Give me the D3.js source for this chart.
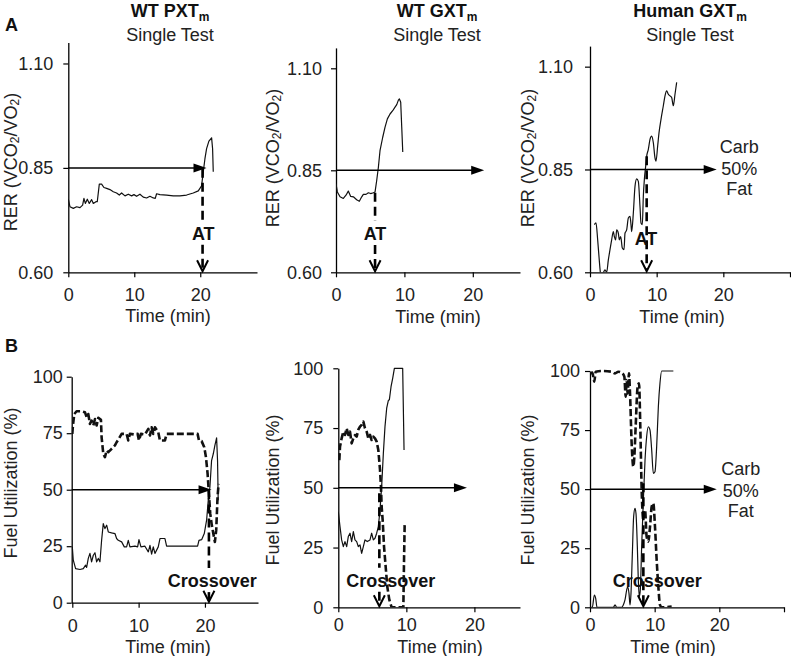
<!DOCTYPE html>
<html><head><meta charset="utf-8">
<script src="https://cdn.jsdelivr.net/npm/d3@7"></script>
<style>
body{margin:0;background:#fff;}
svg{display:block;font-family:"Liberation Sans",Arial,sans-serif;}
</style></head><body>
<svg id="chart" width="791" height="656"></svg>
<script>
// ---------------- data ----------------
const rerTicks = [0.60, 0.85, 1.10];
const fuelTicks = [0, 25, 50, 75, 100];
const timeTicks = [0, 10, 20];
const timeTicksLong = [0, 10, 20, 30];
const titles = ["WT PXT", "WT GXT", "Human GXT"];
const subtitle = "Single Test";
const markerLabels = ["AT", "Crossover"];
const fuelLabels = ["Carb", "50%", "Fat"];

// A1: WT PXTm RER
const a1Time = [0,0.25,0.76,1.26,1.77,2.17,2.37,2.58,2.88,3.18,3.54,3.79,4.19,4.39,4.70,5.05,5.40,5.81,6.31,6.82,7.32,7.73,8.08,8.59,9.09,9.60,9.95,10.35,10.86,11.36,11.87,12.37,12.88,13.18,13.38,13.89,14.90,15.91,16.92,17.93,18.94,19.70,20.20,20.45,20.71,20.96,21.31,21.72,21.87,21.97];
const a1RER = [0.775,0.757,0.753,0.757,0.755,0.761,0.777,0.765,0.775,0.765,0.774,0.765,0.769,0.769,0.811,0.811,0.803,0.801,0.798,0.793,0.790,0.785,0.790,0.783,0.787,0.783,0.786,0.782,0.787,0.780,0.778,0.782,0.778,0.777,0.788,0.786,0.785,0.783,0.783,0.785,0.790,0.795,0.807,0.840,0.872,0.896,0.914,0.922,0.896,0.841];

// A2: WT GXTm RER
const a2Time = [0,0.2,0.59,1.07,1.46,1.80,2.15,2.54,3.02,3.41,3.76,4.0,4.39,4.73,5.07,5.46,5.71,5.95,6.2,6.44,6.83,7.17,7.51,7.9,8.29,8.63,8.88,9.12,9.27,9.46,9.61,9.76];
const a2RER = [0.817,0.797,0.785,0.781,0.789,0.799,0.786,0.785,0.778,0.774,0.785,0.791,0.791,0.795,0.793,0.795,0.797,0.825,0.858,0.899,0.931,0.956,0.976,0.988,0.996,1.005,1.011,1.022,1.025,1.017,0.956,0.895];

// A3: Human GXTm RER
const a3Time = [0.65,0.9,1.15,1.35,1.55,1.75,2.0,2.25,2.5,2.75,3.0,3.25,3.5,3.65,3.85,4.0,4.25,4.4,4.6,4.85,5.1,5.25,5.5,5.75,6.0,6.15,6.25,6.5,6.75,7.0,7.25,7.5,7.65,7.85,8.0,8.15,8.35,8.5,8.75,9.0,9.25,9.5,9.75,9.9,10.15,10.35,10.65,11.0,11.25,11.5,11.75,12.0,12.25,12.5,12.75,13.0];
const a3RER = [0.716,0.720,0.679,0.638,0.600,0.580,0.598,0.606,0.600,0.630,0.655,0.679,0.699,0.687,0.679,0.703,0.695,0.679,0.687,0.659,0.655,0.695,0.703,0.732,0.736,0.716,0.699,0.744,0.809,0.827,0.821,0.760,0.720,0.716,0.785,0.825,0.858,0.882,0.899,0.923,0.931,0.915,0.878,0.870,0.907,0.939,0.972,1.005,1.029,1.041,1.033,1.029,1.025,1.005,1.033,1.062];

// B1: WT PXTm fuel utilization
const b1CarbTime = [0,0.15,0.5,1.16,1.66,2.0,2.16,2.41,2.66,2.91,3.17,3.42,3.67,3.92,4.17,4.42,4.67,4.92,5.18,5.43,5.93,6.43,6.68,6.93,7.44,7.84,8.19,8.44,8.69,9.45,9.85,10.05,10.35,10.95,11.46,11.71,11.96,12.21,12.46,12.96,13.22,13.97,14.22,14.97,16.48,17.99,18.89,19.1,19.5,19.9,20.25,20.5,20.75,21.0,21.26,21.5,21.76,21.9,22.0];
const b1Carb = [24.7,18.8,15.1,14.7,15.1,16.6,15.6,19.6,21.8,18.1,21.0,22.1,18.1,19.6,18.1,27.6,35.0,32.8,34.3,31.3,30.9,30.6,28.4,27.6,26.9,24.7,24.7,27.6,24.7,25.0,24.7,27.9,24.7,25.0,22.5,25.4,21.5,24.7,21.8,24.7,28.4,28.4,25.0,25.0,25.0,25.0,25.0,27.6,27.9,30.6,36.5,45.3,51.2,62.9,65.9,69.6,72.9,62.9,45.3];
const b1FatTime = [0,0.1,0.3,0.65,1.4,1.9,2.16,2.41,2.66,2.91,3.17,3.42,3.67,3.92,4.32,4.42,4.67,4.92,5.18,5.43,5.93,6.43,6.68,6.93,7.44,7.84,8.19,8.44,8.69,9.45,9.85,10.05,10.35,10.95,11.46,11.71,11.96,12.21,12.46,12.96,13.22,13.97,14.22,16.48,18.89,19.1,19.5,19.9,20.15,20.4,20.6,20.8,21.0,21.26,21.5,21.7,21.9,22.06];
const b1Fat = [74.7,78.4,83.5,84.7,84.7,84.3,82.1,83.5,79.1,80.6,78.4,81.3,78.4,81.8,80.9,73.2,65.9,64.4,67.4,66.6,68.1,69.6,71.0,72.1,74.7,74.7,74.7,71.8,74.7,74.4,74.7,71.8,74.7,74.4,76.9,74.0,77.6,74.7,77.6,75.4,71.8,71.8,74.7,74.7,74.7,71.8,71.5,68.8,64.4,57.1,48.2,39.4,35.0,30.6,26.9,32.1,46.9,52.6];

// B2: WT GXTm fuel utilization
const b2CarbTime = [0,0.25,0.49,0.74,0.98,1.23,1.47,1.72,1.96,2.21,2.45,2.70,2.94,3.19,3.43,3.68,3.92,4.26,4.66,4.90,5.15,5.39,5.64,5.88,6.13,6.37,6.62,6.86,7.11,7.35,7.5,7.75,7.99,8.24,8.82,9.46,9.66];
const b2Carb = [40.0,33.8,28.2,25.4,27.5,25.4,29.6,31.0,27.5,31.7,28.2,27.5,25.4,26.1,22.6,25.4,28.2,27.5,28.2,31.0,28.2,28.9,31.0,33.8,40.7,50.5,64.4,75.6,83.3,86.5,86.8,92.3,95.8,100,100,100,65.8];
const b2FatTime = [0.15,0.25,0.49,0.74,0.98,1.23,1.47,1.72,1.96,2.21,2.45,2.7,2.94,3.19,3.43,3.68,3.92,4.17,4.41,4.66,4.90,5.15,5.39,5.64,5.88,6.13,6.27,6.37,6.52,6.72,6.96,7.2,7.5,7.84,8.58,9.31,9.56,9.66,9.75];
const b2Fat = [61.6,67.2,70.7,73.5,72.1,74.9,72.1,73.5,68.6,70.7,72.1,71.4,74.3,75.6,76.3,77.7,74.9,73.5,70.7,72.1,70.0,71.4,70.7,69.3,65.8,57.5,50.5,42.1,36.5,25.4,17.0,8.6,3.1,0,0,0,0,19.8,34.4];

// B3: Human GXTm fuel utilization
const b3CarbTime = [0,0.36,0.67,0.88,1.08,3.61,3.87,4.12,4.9,5.15,5.41,5.67,5.82,6.03,6.19,6.34,6.55,6.75,6.96,7.11,7.32,7.47,7.63,7.78,7.99,8.25,8.51,8.76,9.02,9.28,9.54,9.79,10.05,10.31,10.57,10.82,11.08,11.86,12.89];
const b3Carb = [0,0,5.2,3.8,0,0,1.0,0,0,1.0,3.1,7.3,8.7,5.9,1.0,5.9,22.8,38.4,41.9,39.8,25.7,11.6,4.5,7.3,25.7,45.4,62.3,72.2,76.4,75.0,66.6,56.7,57.4,68.0,84.9,94.8,100,100,100];
const b3FatTime = [0,0.36,0.67,0.88,1.8,3.35,3.87,4.38,5.0,5.31,5.52,5.67,5.82,6.03,6.19,6.44,6.7,6.86,7.06,7.37,7.58,7.78,7.99,8.25,8.51,8.76,9.02,9.28,9.54,9.79,10.05,10.31,10.57,10.82,11.08,12.63];
const b3Fat = [99,99.3,95.5,99.7,100,99.7,99,99.7,99,97.6,89.1,96.2,90.5,99,90.5,69.4,59.5,63.8,76.4,93.4,94.8,76.4,49.6,37.0,41.2,29.9,27.8,34.1,42.6,44.0,34.1,20.0,8.7,1.0,0,0.3];

// reference level arrows (value, arrow tip time) and threshold markers (time, top value, label position)
const refLevels = [0.85, 0.85, 0.85, 50, 50, 50];
const refArrowEnd = [20.95, 21.66, 19.0, 21.0, 18.9, 19.6];
const markerTime = [20.35, 5.71, 8.5, 20.6, 6.03, 8.25];
const markerTop = [0.848, 0.795, 0.882, 49.7, 47.7, 52.5];
const markerTextTime = [20.45, 5.7, 8.4, 21.1, 7.7, 10.4];
const markerTextValue = [0.678, 0.679, 0.667, 6.9, 8.6, 8.7];

// ---------------- layout ----------------
const zip = (t, v) => t.map((d, i) => [d, v[i]]);
const panels = [
  {row:0, col:0, xDomain:[0,28.6], xRange:[68.3,257], yDomain:[0.6,1.15], yRange:[272.3,42.6], yTicks:rerTicks, xTicks:timeTicks, yPad:10, xPad:11,
   series:[{data:zip(a1Time,a1RER), dash:false}], curve:d3.curveLinear, gap:true, fuelText:null,
   titleX:170, yLabelX:11, yLabelY:162, xLabelX:168, xLabelY:322},
  {row:0, col:1, xDomain:[0,26.9], xRange:[336,520], yDomain:[0.6,1.15], yRange:[272.3,47.9], yTicks:rerTicks, xTicks:timeTicks, yPad:9, xPad:11,
   series:[{data:zip(a2Time,a2RER), dash:false}], curve:d3.curveLinear, gap:true, fuelText:null,
   titleX:437, yLabelX:273, yLabelY:158, xLabelX:438, xLabelY:323},
  {row:0, col:2, xDomain:[0,30], xRange:[590,790], yDomain:[0.6,1.15], yRange:[272.3,46.1], yTicks:rerTicks, xTicks:timeTicksLong, yPad:12, xPad:11,
   series:[{data:zip(a3Time,a3RER), dash:false}], curve:d3.curveMonotoneX, gap:false, fuelText:{t:22.4, v:[0.905,0.852,0.803]},
   titleX:690, yLabelX:528, yLabelY:158, xLabelX:682, xLabelY:323},
  {row:1, col:0, xDomain:[-0.09,28], xRange:[71.7,258], yDomain:[0,100], yRange:[602.7,376.7], yTicks:fuelTicks, xTicks:timeTicks, yPad:4, xPad:12,
   series:[{data:zip(b1FatTime,b1Fat), dash:true},{data:zip(b1CarbTime,b1Carb), dash:false}], curve:d3.curveLinear, gap:true, fuelText:null,
   yLabelX:11, yLabelY:483, xLabelX:168, xLabelY:653},
  {row:1, col:1, xDomain:[0,26.7], xRange:[338.3,520], yDomain:[0,100], yRange:[607.3,368.3], yTicks:fuelTicks, xTicks:timeTicks, yPad:10, xPad:6,
   series:[{data:zip(b2FatTime,b2Fat), dash:true},{data:zip(b2CarbTime,b2Carb), dash:false}], curve:d3.curveLinear, gap:true, fuelText:null,
   yLabelX:273, yLabelY:490, xLabelX:440, xLabelY:653},
  {row:1, col:2, xDomain:[0,30], xRange:[590,784], yDomain:[0,100], yRange:[607.3,371], yTicks:fuelTicks, xTicks:timeTicksLong, yPad:5, xPad:6,
   series:[{data:zip(b3FatTime,b3Fat), dash:true},{data:zip(b3CarbTime,b3Carb), dash:false}], curve:d3.curveMonotoneX, gap:false, fuelText:{t:23.3, v:[58.5,49.3,40.9]},
   yLabelX:528, yLabelY:490, xLabelX:673, xLabelY:653}
];

const svg = d3.select('#chart');
const defs = svg.append('defs');
const FS = 18;

panels.forEach((p, i) => {
  const x = d3.scaleLinear().domain(p.xDomain).range(p.xRange);
  const y = d3.scaleLinear().domain(p.yDomain).range(p.yRange);
  const g = svg.append('g');
  const axisY = p.yRange[0];
  const axisX = p.xRange[0];

  // clip
  const cid = 'clip' + i;
  defs.append('clipPath').attr('id', cid).append('rect')
    .attr('x', axisX).attr('y', p.yRange[1] - 5)
    .attr('width', p.xRange[1] - axisX).attr('height', axisY - p.yRange[1] + 5);

  // axes
  const yAxis = d3.axisLeft(y).tickValues(p.yTicks)
    .tickFormat(p.row === 0 ? d3.format('.2f') : d3.format('d'))
    .tickSize(5).tickSizeOuter(0).tickPadding(p.yPad);
  const ya = g.append('g').attr('transform', `translate(${axisX},0)`).call(yAxis);
  const xAxis = d3.axisBottom(x).tickValues(p.xTicks)
    .tickFormat(d => d === 30 ? '' : d)
    .tickSize(5).tickSizeOuter(0).tickPadding(p.xPad);
  const xa = g.append('g').attr('transform', `translate(0,${axisY})`).call(xAxis);
  [ya, xa].forEach(a => {
    a.select('.domain').attr('stroke', '#000').attr('stroke-width', 1.3);
    a.selectAll('.tick line').attr('stroke', '#000').attr('stroke-width', 1.2);
    a.selectAll('.tick text').attr('fill', '#222').attr('font-size', FS)
      .attr('font-family', '"Liberation Sans",Arial,sans-serif');
  });

  // series
  const line = d3.line().x(d => x(d[0])).y(d => y(d[1])).curve(p.curve);
  const sg = g.append('g').attr('clip-path', `url(#${cid})`);
  p.series.forEach(s => {
    sg.append('path').datum(s.data).attr('d', line)
      .attr('fill', 'none').attr('stroke', '#111')
      .attr('stroke-width', s.dash ? 2.6 : 1.2)
      .attr('stroke-dasharray', s.dash ? '7,3' : null)
      .attr('stroke-linejoin', 'round');
  });

  // reference arrow
  const ry = y(refLevels[i]);
  const tip = x(refArrowEnd[i]);
  g.append('line').attr('x1', axisX).attr('x2', tip - 8).attr('y1', ry).attr('y2', ry)
    .attr('stroke', '#000').attr('stroke-width', 1.5);
  g.append('path').attr('d', `M${tip},${ry} L${tip - 13},${ry - 4.5} L${tip - 13},${ry + 4.5} Z`).attr('fill', '#000');

  // threshold marker
  const mx = x(markerTime[i]);
  const mTop = y(markerTop[i]);
  const tb = y(markerTextValue[i]);
  const label = p.row === 0 ? markerLabels[0] : markerLabels[1];
  const dashStyle = sel => sel.attr('stroke', '#000').attr('stroke-width', 2.6).attr('stroke-dasharray', '9,5');
  if (p.gap) {
    g.append('line').attr('x1', mx).attr('x2', mx).attr('y1', mTop).attr('y2', tb - 19).call(dashStyle);
    g.append('line').attr('x1', mx).attr('x2', mx).attr('y1', tb + 5).attr('y2', axisY - 2).call(dashStyle);
  } else {
    g.append('line').attr('x1', mx).attr('x2', mx).attr('y1', mTop).attr('y2', axisY - 2).call(dashStyle);
  }
  g.append('path').attr('d', `M${mx - 5.5},${axisY - 12} L${mx},${axisY - 1} L${mx + 5.5},${axisY - 12}`)
    .attr('fill', 'none').attr('stroke', '#000').attr('stroke-width', 2);
  g.append('text').attr('x', x(markerTextTime[i])).attr('y', tb)
    .attr('text-anchor', 'middle').attr('font-weight', 'bold').attr('font-size', FS).attr('fill', '#111')
    .text(label);

  // Carb / 50% / Fat
  if (p.fuelText) {
    fuelLabels.forEach((t, k) => {
      g.append('text').attr('x', x(p.fuelText.t)).attr('y', y(p.fuelText.v[k]))
        .attr('text-anchor', 'middle').attr('dominant-baseline', 'central')
        .attr('font-size', FS).attr('fill', '#222').text(t);
    });
  }

  // y label
  const yl = g.append('text').attr('transform', `translate(${p.yLabelX},${p.yLabelY}) rotate(-90)`)
    .attr('text-anchor', 'middle').attr('dominant-baseline', 'central')
    .attr('font-size', FS).attr('fill', '#222');
  if (p.row === 0) {
    yl.append('tspan').text('RER (VCO');
    yl.append('tspan').attr('font-size', 12).attr('dy', 4).text('2');
    yl.append('tspan').attr('dy', -4).text('/VO');
    yl.append('tspan').attr('font-size', 12).attr('dy', 4).text('2');
    yl.append('tspan').attr('dy', -4).text(')');
  } else {
    yl.text('Fuel Utilization (%)');
  }

  // x label
  g.append('text').attr('x', p.xLabelX).attr('y', p.xLabelY).attr('text-anchor', 'middle')
    .attr('font-size', FS).attr('fill', '#222').text('Time (min)');

  // titles
  if (p.row === 0) {
    const t = g.append('text').attr('x', p.titleX).attr('y', 17).attr('text-anchor', 'middle')
      .attr('font-weight', 'bold').attr('font-size', FS).attr('fill', '#111');
    t.append('tspan').text(titles[p.col]);
    t.append('tspan').attr('font-size', 12).attr('dy', 4).text('m');
    g.append('text').attr('x', p.titleX).attr('y', 41).attr('text-anchor', 'middle')
      .attr('font-size', FS).attr('fill', '#222').text(subtitle);
  }
});

// panel letters
svg.append('text').attr('x', 5).attr('y', 31).attr('font-weight', 'bold').attr('font-size', FS).attr('fill', '#111').text('A');
svg.append('text').attr('x', 5).attr('y', 352).attr('font-weight', 'bold').attr('font-size', FS).attr('fill', '#111').text('B');
</script>
</body></html>
